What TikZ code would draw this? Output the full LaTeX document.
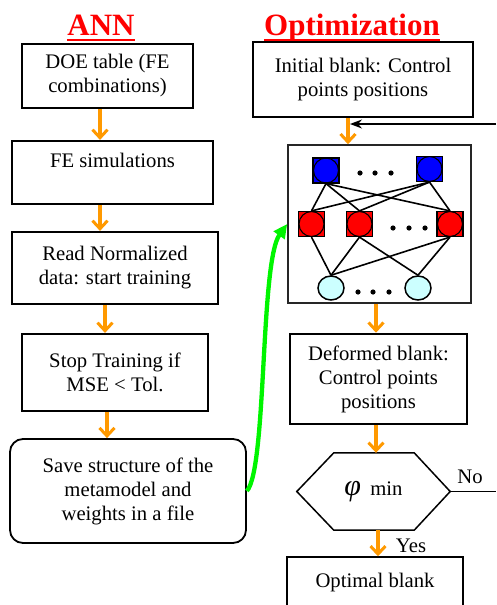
\documentclass[tikz,border=0pt]{standalone}
\usepackage{fontspec}
\setmainfont{Liberation Serif}
\usetikzlibrary{arrows.meta,shapes.geometric,calc}
\definecolor{flowor}{RGB}{255,153,0}
\definecolor{linkgreen}{RGB}{0,245,0}
\definecolor{inputcyan}{RGB}{204,255,255}
% heading underline: a 2pt rule set 3.5pt below the baseline
\newcommand{\headul}[1]{\setbox0\hbox{#1}\rlap{\vrule width \wd0 height -3.5pt depth 5.5pt}\box0}
\begin{document}
\begin{tikzpicture}[x=1pt,y=-1pt,
  every node/.style={font=\fontsize{20.7}{24}\selectfont},
  box/.style={draw, line width=2.2pt, align=center, inner sep=0pt},
  title/.style={anchor=base, text=red, font=\fontsize{31}{31}\selectfont\bfseries},
  flow/.style={draw=flowor, line width=3.5pt,
    -{Straight Barb[length=8pt,width=15pt,line width=3pt]}},
  feedback/.style={line width=1.5pt, -{Stealth[length=12pt,width=9pt]}},
  greenlink/.style={draw=linkgreen, line width=4.3pt,
    -{Triangle[length=14pt,width=13pt]}},
  nnline/.style={line width=1.6pt},
  neuronsq/.style={draw, line width=1.2pt, minimum width=26pt, minimum height=25pt,
    inner sep=0pt},
  neuronin/.style={draw, line width=1.5pt, ellipse, fill=inputcyan,
    minimum width=26pt, minimum height=24pt, inner sep=0pt},
  plain/.style={inner sep=0pt}]
\useasboundingbox (0,0) rectangle (496,605);

% column titles
\node[title] (annTitle) at (101,35) {\headul{ANN}};
\node[title] (optTitle) at (352,35) {\headul{Optimization}};

% ANN column
\node[box, minimum width=171pt, minimum height=64pt] (doe) at (107.5,76)
  {DOE table (FE\\combinations)};
\node[box, minimum width=201pt, minimum height=63pt] (fesim) at (112.5,172.5)
  {FE simulations\\[-6pt]\strut};
\node[box, minimum width=206pt, minimum height=72pt] (read) at (115,268)
  {Read Normalized\\data: start training};
\node[box, minimum width=186pt, minimum height=77pt] (stop) at (115,372.5)
  {Stop Training if\\MSE < Tol.};
\node[box, line width=1.8pt, rounded corners=13pt, minimum width=236pt,
  minimum height=104pt] (save) at (128,491)
  {Save structure of the\\metamodel and\\weights in a file};

\draw[flow] ([xshift=-7.5]doe.south) -- ([xshift=-12.5]fesim.north);
\draw[flow] ([xshift=-12.5]fesim.south) -- ([xshift=-15]read.north);
\draw[flow] ([xshift=-10]read.south) -- ([xshift=-10]stop.north);
\draw[flow] ([xshift=-8]stop.south) -- ([xshift=-21]save.north);

% Optimization column
\node[box, minimum width=220pt, minimum height=75pt] (init) at (363,79.5)
  {Initial blank: Control\\points positions};
\node[box, line width=1.6pt, draw=black!85, minimum width=183pt,
  minimum height=158pt] (nn) at (379.5,224) {};
\node[box, line width=2.6pt, minimum width=177pt, minimum height=90pt] (def)
  at (378.5,379) {Deformed blank:\\Control points\\positions};
\node[plain, minimum width=153pt, minimum height=77pt] (hex) at (373.5,491.5)
  {{\fontsize{30}{30}\selectfont\itshape φ}\hspace{0.45em}min};
\draw[line width=1.5pt] (hex.west) -- ([xshift=37]hex.north west)
  -- ([xshift=-36]hex.north east) -- (hex.east)
  -- ([xshift=-36]hex.south east) -- ([xshift=37]hex.south west) -- cycle;
\node[box, line width=1.5pt, minimum width=176pt, minimum height=52pt] (opt)
  at (375,583) {Optimal blank};

\node[plain] (noLbl) at (470,477) {No};
\node[plain] (yesLbl) at (411,546) {Yes};

\coordinate (noEnd) at (496,491.5);
\coordinate (fbStart) at (496,124);
\coordinate (fbEnd) at (350,124);

\draw[flow] ([xshift=-15]init.south) -- ([xshift=-31.5]nn.north);
\draw[flow] ([xshift=-3.5]nn.south) -- ([xshift=-2.5]def.north);
\draw[flow] ([xshift=-2.5]def.south) -- ([xshift=2.5]hex.north);
\draw[flow] ([xshift=4.5]hex.south) -- ([xshift=3]opt.north);
\draw[line width=1.5pt] (hex.east) -- (noEnd);
\draw[feedback] (fbStart) -- (fbEnd);

% link from the saved metamodel into the network
\draw[greenlink] (save.east) .. controls (267,468) and (260,262) .. (nn.west);

% network inside the optimisation loop
\node[neuronsq, fill=blue, path picture={
  \draw[fill=blue, line width=1.1pt] (path picture bounding box.center) circle (12.5pt);}]
  (T1) at (326,170.5) {};
\node[neuronsq, fill=blue, path picture={
  \draw[fill=blue, line width=1.1pt] (path picture bounding box.center) circle (12.5pt);}]
  (T2) at (429.5,169) {};
\node[neuronsq, fill=red, path picture={
  \draw[fill=red, line width=1.1pt] (path picture bounding box.center) circle (12.5pt);}]
  (R1) at (311.5,224) {};
\node[neuronsq, fill=red, path picture={
  \draw[fill=red, line width=1.1pt] (path picture bounding box.center) circle (12.5pt);}]
  (R2) at (359.5,224) {};
\node[neuronsq, fill=red, path picture={
  \draw[fill=red, line width=1.1pt] (path picture bounding box.center) circle (12.5pt);}]
  (R3) at (450,224) {};
\node[neuronin] (C1) at (331,288) {};
\node[neuronin] (C2) at (418,288) {};

\foreach \a in {T1,T2}
  \foreach \b in {R1,R2,R3}
    \draw[nnline] (\a.south) -- (\b.north);
\draw[nnline] (R1.south) -- (C1.north);
\draw[nnline] (R2.south) -- (C1.north);
\draw[nnline] (R2.south) -- (C2.north);
\draw[nnline] (R3.south) -- (C1.north);
\draw[nnline] (R3.south) -- (C2.north);

\foreach \x in {360,375,391} \fill (\x,173) circle (2.6pt);
\foreach \x in {393,409,425} \fill (\x,228) circle (2.6pt);
\foreach \x in {358,373,389} \fill (\x,292) circle (2.6pt);
\end{tikzpicture}
\end{document}
